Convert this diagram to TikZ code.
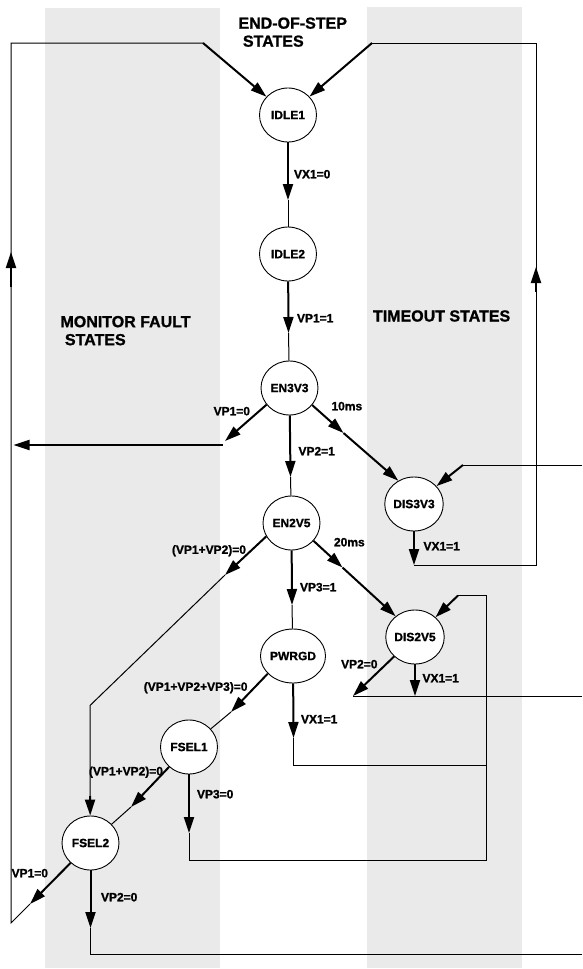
\documentclass[tikz,border=0pt]{standalone}
\usepackage{fontspec}
\setmainfont{Liberation Sans}[BoldFont={Liberation Sans Bold},BoldFeatures={FakeBold=1.2}]
\usepackage{xcolor}
\usetikzlibrary{automata, arrows.meta, shapes.geometric}

\definecolor{bandgray}{RGB}{234,234,234}

\begin{document}
\begin{tikzpicture}[->,>={Triangle[length=16pt,width=10pt]},x=1pt,y=-1pt,line width=2pt,
        font=\fontsize{12}{14}\selectfont\bfseries]
        \tikzstyle{every state}=[ellipse,draw,line width=0.9pt,fill=white,minimum width=57pt,minimum height=54pt,inner sep=0pt,text=black]
        \tikzstyle{wire}=[-,line width=1pt]
        \tikzstyle{cond}=[inner sep=0pt,text height=8.6pt,text depth=0pt]
        \tikzstyle{title}=[align=left,inner sep=0pt,font=\fontsize{16}{18}\selectfont\bfseries]

        \useasboundingbox (0,0) rectangle (582,969);
        \fill[bandgray] (45,8) rectangle (220,968);
        \fill[bandgray] (367,7) rectangle (522,968);

        \node[title,anchor=north west] (tEnd) at (237.5,16.5) {END-OF-STEP\\~STATES};
        \node[title,anchor=north west] (tMon) at (59.5,315) {MONITOR FAULT\\~STATES};
        \node[title,anchor=west]       (tOut) at (372,316)  {TIMEOUT STATES};

        \node[state] (idle1)  at (288,115)   {IDLE1};
        \node[state] (idle2)  at (288,254)   {IDLE2};
        \node[state] (en3v3)  at (289.5,388) {EN3V3};
        \node[state] (en2v5)  at (291.5,523) {EN2V5};
        \node[state] (pwrgd)  at (293,656)   {PWRGD};
        \node[state] (dis3v3) at (414,504)   {DIS3V3};
        \node[state] (dis2v5) at (415,637)   {DIS2V5};
        \node[state] (fsel1)  at (189,747)   {FSEL1};
        \node[state] (fsel2)  at (90.5,843)  {FSEL2};

        % tips and bends
        \coordinate (a1) at (288,200);
        \coordinate (a2) at (288.5,333);
        \coordinate (a3) at (290.5,477);
        \coordinate (a4) at (292,605);
        \coordinate (m1) at (343.5,433);
        \coordinate (m2) at (342.5,567.5);
        \coordinate (b1) at (225,441);
        \coordinate (c1) at (223,445);
        \coordinate (d1) at (13.5,445);
        \coordinate (b2) at (225,575);
        \coordinate (c2) at (90,705.5);
        \coordinate (d2) at (90,796);
        \coordinate (b3) at (231,712);
        \coordinate (b4) at (131,807);
        \coordinate (b5) at (30,904);
        \coordinate (c5) at (11,923);
        \coordinate (d5) at (11,43);
        \coordinate (e5) at (203,43);
        \coordinate (f5) at (11,287);
        \coordinate (g5) at (11,252);
        \coordinate (a6) at (414,565);
        \coordinate (b6) at (536,565);
        \coordinate (c6) at (536,43);
        \coordinate (d6) at (372,43);
        \coordinate (e6) at (536,292);
        \coordinate (f6) at (536,267);
        \coordinate (a7) at (582,465);
        \coordinate (b7) at (463,465);
        \coordinate (a8) at (353,696);
        \coordinate (b8) at (415,696);
        \coordinate (c8) at (582,696);
        \coordinate (a10) at (189,833);
        \coordinate (b10) at (189,860);
        \coordinate (c10) at (486,860);
        \coordinate (d10) at (486,595.5);
        \coordinate (e10) at (458,595.5);
        \coordinate (a11) at (293.5,738);
        \coordinate (b11) at (293.5,765.5);
        \coordinate (c11) at (486,765.5);
        \coordinate (a12) at (90.5,928);
        \coordinate (b12) at (90.5,954);
        \coordinate (c12) at (582,954);

        % main sequence
        \draw (idle1) -- (a1);  \draw[wire] (a1) -- (idle2);
        \draw (idle2) -- (a2);  \draw[wire] (a2) -- (en3v3);
        \draw (en3v3) -- (a3);  \draw[wire] (a3) -- (en2v5);
        \draw (en2v5) -- (a4);  \draw[wire] (a4) -- (pwrgd);

        % timeouts
        \draw (en3v3.-37) -- (m1);  \draw (m1) -- (dis3v3.124);
        \draw (en2v5.-39) -- (m2);  \draw (m2) -- (dis2v5.133);

        % monitor faults
        \draw (en3v3.216) -- (b1);  \draw (c1) -- (d1);
        \draw (en2v5.208) -- (b2);  \draw[wire] (b2) -- (c2) -- (d2);  \draw (d2) -- (fsel2);
        \draw (pwrgd.215) -- (b3);  \draw[wire] (b3) -- (fsel1);
        \draw (fsel1.225) -- (b4);  \draw[wire] (b4) -- (fsel2);

        % return paths
        \draw (fsel2.225) -- (b5);  \draw[wire] (b5) -- (c5) -- (d5) -- (e5);  \draw (e5) -- (idle1);
        \draw (f5) -- (g5);
        \draw (dis3v3) -- (a6);  \draw[wire] (a6) -- (b6) -- (c6) -- (d6);  \draw (d6) -- (idle1);
        \draw (e6) -- (f6);
        \draw[wire] (a7) -- (b7);  \draw (b7) -- (dis3v3);
        \draw (dis2v5.223) -- (a8);  \draw (dis2v5) -- (b8);  \draw[wire] (a8) -- (c8);
        \draw (fsel1) -- (a10);  \draw[wire] (a10) -- (b10) -- (c10) -- (d10) -- (e10);  \draw (e10) -- (dis2v5);
        \draw (pwrgd) -- (a11);  \draw[wire] (a11) -- (b11) -- (c11);
        \draw (fsel2) -- (a12);  \draw[wire] (a12) -- (b12) -- (c12);

        % conditions
        \node[cond,anchor=west] (cVXa) at (293,174)   {VX1=0};
        \node[cond,anchor=west] (cVPa) at (296,318)   {VP1=1};
        \node[cond,anchor=east] (cVPb) at (251,411)   {VP1=0};
        \node[cond,anchor=west] (cTa)  at (330.5,406) {10ms};
        \node[cond,anchor=west] (cVPc) at (297.5,451) {VP2=1};
        \node[cond,anchor=east] (cVPd) at (247,549.5) {(VP1+VP2)=0};
        \node[cond,anchor=west] (cTb)  at (333,542)   {20ms};
        \node[cond,anchor=west] (cVXb) at (422.5,546) {VX1=1};
        \node[cond,anchor=west] (cVPe) at (299,587)   {VP3=1};
        \node[cond,anchor=east] (cVPf) at (378.5,664) {VP2=0};
        \node[cond,anchor=west] (cVXc) at (421.5,678) {VX1=1};
        \node[cond,anchor=east] (cVPg) at (248.5,686.5) {(VP1+VP2+VP3)=0};
        \node[cond,anchor=west] (cVXd) at (300,719)   {VX1=1};
        \node[cond,anchor=east] (cVPh) at (164,771)   {(VP1+VP2)=0};
        \node[cond,anchor=west] (cVPi) at (196,794)   {VP3=0};
        \node[cond,anchor=east] (cVPj) at (49,873)    {VP1=0};
        \node[cond,anchor=west] (cVPk) at (100,897)   {VP2=0};
\end{tikzpicture}
\end{document}
